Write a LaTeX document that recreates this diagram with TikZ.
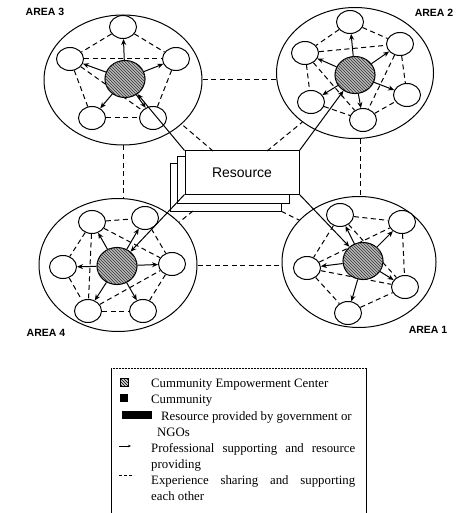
\documentclass[tikz,border=0pt]{standalone}
\usepackage{fontspec}
\setmainfont{Liberation Serif}
\newfontfamily\arialf{Liberation Sans}
\usetikzlibrary{shapes.geometric,arrows.meta,patterns,calc}
\pgfdeclarelayer{bg}
\pgfsetlayers{bg,main}
\tikzset{
  comm/.style={ellipse, draw, line width=1pt, fill=white, minimum width=27pt, minimum height=23pt, inner sep=0pt},
  cec/.style={ellipse, draw, line width=1.1pt, minimum width=40pt, minimum height=37pt, inner sep=0pt, fill=gray!55, postaction={pattern=north west lines, pattern color=black!80}},
  area/.style={ellipse, draw, line width=1pt, inner sep=0pt},
  supp/.style={-{Stealth[length=6pt,width=5pt]}, line width=1pt},
  share/.style={dash pattern=on 5pt off 3.5pt, line width=1pt},
  page/.style={rectangle, draw, fill=white, line width=0.7pt, inner sep=0pt},
  arealbl/.style={font=\arialf\bfseries\fontsize{10.5}{12}\selectfont, inner sep=0pt},
  legtxt/.style={font=\fontsize{12.8}{16}\selectfont, inner sep=0pt, anchor=base west}
}
\begin{document}
\begin{tikzpicture}[x=1pt,y=-1pt]
\useasboundingbox (0,0) rectangle (471,513);

% ---------- area ellipses ----------
\node[area, minimum width=158pt, minimum height=130pt] (A3) at (123,80) {};
\node[area, minimum width=157pt, minimum height=131pt] (A2) at (355,73) {};
\node[area, minimum width=158pt, minimum height=133pt] (A4) at (118,265) {};
\node[area, minimum width=154pt, minimum height=131pt] (A1) at (359,262) {};

% ---------- area labels ----------
\node[arealbl] (L3) at (45,12) {AREA 3};
\node[arealbl] (L2) at (434,13) {AREA 2};
\node[arealbl] (L4) at (46,333) {AREA 4};
\node[arealbl] (L1) at (428,330) {AREA 1};

% ---------- Area 3 ----------
\node[cec] (c3) at (125,79) {};
\node[comm] (a3t) at (123,27) {};
\node[comm] (a3l) at (70,59) {};
\node[comm] (a3r) at (176,59) {};
\node[comm] (a3bl) at (92,118) {};
\node[comm] (a3br) at (153,118) {};

% ---------- Area 2 ----------
\node[cec] (c2) at (355,75) {};
\node[comm] (a2t) at (350,22) {};
\node[comm] (a2ur) at (400,44) {};
\node[comm] (a2ul) at (305,53) {};
\node[comm] (a2r) at (407,95) {};
\node[comm] (a2bl) at (311,102) {};
\node[comm] (a2b) at (363,120) {};

% ---------- Area 4 ----------
\node[cec] (c4) at (117,266) {};
\node[comm] (a4ul) at (92,222) {};
\node[comm] (a4ur) at (145,218) {};
\node[comm] (a4l) at (63,267) {};
\node[comm] (a4r) at (172,264) {};
\node[comm] (a4bl) at (88,311) {};
\node[comm] (a4br) at (143,311) {};

% ---------- Area 1 ----------
\node[cec] (c1) at (363,261) {};
\node[comm] (a1ul) at (340,215) {};
\node[comm] (a1ur) at (402,222) {};
\node[comm] (a1l) at (307,268) {};
\node[comm] (a1r) at (405,287) {};
\node[comm] (a1b) at (348,313) {};

% ---------- sharing lines inside areas ----------
\begin{pgfonlayer}{bg}
\foreach \a/\b in {a3t/a3l, a3t/a3r, a3l/a3r, a3l/a3bl, a3r/a3br, a3bl/a3br, a3l/a3br,
                   a2t/a2ul, a2t/a2ur, a2ul/a2ur, a2ul/a2bl, a2ul/a2b, a2ur/a2r, a2ur/a2b, a2bl/a2b, a2b/a2r,
                   a4ul/a4ur, a4ul/a4l, a4ul/a4bl, a4ur/a4r, a4ul/a4r, a4l/a4bl, a4bl/a4br, a4bl/a4r, a4r/a4br,
                   a1ul/a1ur, a1ul/a1l, a1ur/a1r, a1l/a1ur, a1l/a1r, a1l/a1b, a1b/a1r, a1ul/a1r}
  \draw[share] (\a) -- (\b);
\end{pgfonlayer}

% ---------- support arrows inside areas ----------
\foreach \t in {a3t, a3l, a3r, a3bl, a3br} \draw[supp] (c3) -- (\t);
\foreach \t in {a2t, a2ur, a2ul, a2r, a2bl, a2b} \draw[supp] (c2) -- (\t);
\foreach \t in {a4ul, a4ur, a4l, a4r, a4bl, a4br} \draw[supp] (c4) -- (\t);
\foreach \t in {a1ul, a1ur, a1l, a1r, a1b} \draw[supp] (c1) -- (\t);

% ---------- inter-area sharing ----------
\draw[share] (A3.east) -- (A3.east -| A2.west);
\draw[share] (A4.east) -- (A4.east -| A1.west);
\draw[share] (A3.south) -- (A3.south |- A4.north);
\draw[share] (A2.-85) -- (A2.-85 |- A1.north);

% ---------- resource ----------
\node[page, minimum width=111pt, minimum height=48pt] (P3) at (225.5,187) {};
\node[page, minimum width=112pt, minimum height=47pt] (P2) at (233,179.5) {};
\node[page, line width=1pt, minimum width=114pt, minimum height=43pt,
      font=\arialf\fontsize{14}{16}\selectfont] (R) at (242,172.5) {Resource};

\coordinate (rt1) at (213,151);
\coordinate (rt2) at (267,151);
\coordinate (rb1) at (193,211);
\draw[share] (rt1) -- (A3.-37);
\draw[share] (rt2) -- (A2.-137);
\draw[share] (rb1) -- (A4.35);
\draw[share] (P3.south east) -- (A1.145);

\draw[supp] (R.north west) -- (c3);
\draw[supp] (R.north east) -- (c2);
\draw[supp] (R.south west) -- (c4);
\draw[supp] (R.south east) -- (c1);

% ---------- legend ----------
\coordinate (lgtl) at (111,368);
\coordinate (lgtr) at (366,368);
\coordinate (lgbl) at (111,515);
\coordinate (lgbr) at (366,515);
\draw[line width=0.9pt] (lgbl) -- (lgtl);
\draw[line width=0.9pt] (lgtr) -- (lgbr);
\draw[line width=0.5pt, densely dotted] (lgtl) -- (lgtr);

\node[draw, line width=0.4pt, minimum size=8pt, inner sep=0pt, fill=gray!35,
      postaction={pattern=north west lines}] (k1) at (124,382) {};
\node[fill=black, minimum size=8pt, inner sep=0pt] (k2) at (124,398) {};
\node[fill=black, minimum width=30pt, minimum height=8pt, inner sep=0pt] (k3) at (137,415) {};
\coordinate (k4a) at (119,446);
\coordinate (k4b) at (131,446);
\draw[-{Stealth[length=3pt,width=2.5pt]}, line width=0.7pt] (k4a) -- (k4b);
\coordinate (k5a) at (119,475);
\coordinate (k5b) at (134,475);
\draw[dash pattern=on 3pt off 2pt, line width=0.7pt] (k5a) -- (k5b);

\node[legtxt] (t1) at (151,387) {Cummunity Empowerment Center};
\node[legtxt] (t2) at (151,403) {Cummunity};
\node[legtxt] (t3) at (161,420) {Resource provided by government or};
\node[legtxt] (t4) at (157,436) {NGOs};
\node[legtxt] (t5) at (151,452) {\makebox[204pt][s]{Professional supporting and resource}};
\node[legtxt] (t6) at (151,468) {providing};
\node[legtxt] (t7) at (151,484) {\makebox[204pt][s]{Experience sharing and supporting}};
\node[legtxt] (t8) at (151,500) {each other};
\end{tikzpicture}
\end{document}
